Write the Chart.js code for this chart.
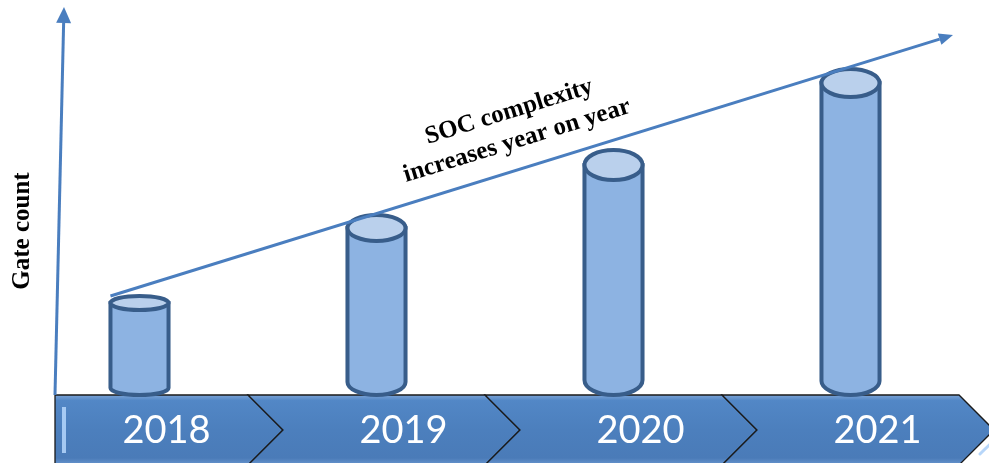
<!DOCTYPE html>
<html>
<head>
<meta charset="utf-8">
<script src="https://cdn.jsdelivr.net/npm/chart.js@4.4.1/dist/chart.umd.min.js"></script>
<style>
html, body { margin: 0; padding: 0; background: #fff; }
</style>
</head>
<body>
<canvas id="gateChart" width="989" height="463"></canvas>
<script>
// du lieu
const years = ['2018', '2019', '2020', '2021'];
const gateCount = [92, 167, 230, 312];
const yAxisTitle = 'Gate count';
const trendText = ['SOC complexity', 'increases year on year'];

// kieu ve
const capDepth = [7, 13, 15, 14];
const blueLine = '#4a7ebf';
const bodyFill = '#8db3e2';
const capFill = '#bad0ec';
const cylStroke = '#385d8a';

function drawArrow(ctx, x1, y1, x2, y2, head, width, color, lw) {
    const ang = Math.atan2(y2 - y1, x2 - x1);
    const bx = x2 - head * Math.cos(ang);
    const by = y2 - head * Math.sin(ang);
    ctx.save();
    ctx.strokeStyle = color;
    ctx.fillStyle = color;
    ctx.lineWidth = lw;
    ctx.beginPath();
    ctx.moveTo(x1, y1);
    ctx.lineTo(bx, by);
    ctx.stroke();
    ctx.beginPath();
    ctx.moveTo(x2, y2);
    ctx.lineTo(bx + width / 2 * Math.sin(ang), by - width / 2 * Math.cos(ang));
    ctx.lineTo(bx - width / 2 * Math.sin(ang), by + width / 2 * Math.cos(ang));
    ctx.closePath();
    ctx.fill();
    ctx.restore();
}

const cylinderPlugin = {
    id: 'cylinders',
    beforeDatasetsDraw(chart) {
        const ctx = chart.ctx;
        const area = chart.chartArea;
        const xs = chart.scales.x;
        const half = (xs.getPixelForValue(1) - xs.getPixelForValue(0)) / 2;
        const top = area.bottom;
        const tip = 35;
        const mid = top + tip;
        const bottom = top + 2 * tip;
        const left = area.left + 34;

        const bounds = [left];
        for (let i = 0; i < years.length; i++) {
            bounds.push(xs.getPixelForValue(i) + half - 10);
        }

        // bang mui ten
        for (let i = 0; i < years.length; i++) {
            const L = bounds[i], R = bounds[i + 1];
            ctx.save();
            ctx.beginPath();
            ctx.moveTo(L, top);
            ctx.lineTo(R, top);
            ctx.lineTo(R + tip, mid);
            ctx.lineTo(R, bottom);
            ctx.lineTo(L, bottom);
            if (i > 0) ctx.lineTo(L + tip, mid);
            ctx.closePath();
            const g = ctx.createLinearGradient(0, top, 0, bottom);
            g.addColorStop(0, '#7ba3d6');
            g.addColorStop(0.08, '#5287c6');
            g.addColorStop(0.5, '#4c7fbd');
            g.addColorStop(0.9, '#4a7bb8');
            g.addColorStop(1, '#6a96cf');
            ctx.fillStyle = g;
            ctx.fill();
            ctx.strokeStyle = '#1a1a1a';
            ctx.lineWidth = 1.3;
            ctx.stroke();
            ctx.restore();

            // vet sang
            ctx.save();
            ctx.strokeStyle = 'rgba(175, 210, 248, 0.9)';
            ctx.lineWidth = 3;
            ctx.lineCap = 'round';
            ctx.beginPath();
            ctx.moveTo(R + tip + 12, mid + 1);
            ctx.quadraticCurveTo(R + tip + 2, mid + 8, R + tip - 14, mid + 24);
            ctx.stroke();
            ctx.restore();
        }
        ctx.save();
        ctx.strokeStyle = 'rgba(175, 210, 248, 0.9)';
        ctx.lineWidth = 4;
        ctx.beginPath();
        ctx.moveTo(left + 9, top + 12);
        ctx.lineTo(left + 9, top + 58);
        ctx.stroke();
        ctx.restore();

        // nhan nam
        ctx.save();
        ctx.fillStyle = '#ffffff';
        ctx.font = '38px Lato';
        ctx.textAlign = 'center';
        ctx.textBaseline = 'alphabetic';
        years.forEach((y, i) => {
            ctx.fillText(y, xs.getPixelForValue(i) + 27, top + 48);
        });
        ctx.restore();

        // truc y
        drawArrow(ctx, left, top, left + 9, 7, 16, 15, blueLine, 3);

        ctx.save();
        ctx.translate(23, 231);
        ctx.rotate(-Math.PI / 2);
        ctx.fillStyle = '#000';
        ctx.font = 'bold 25px "Liberation Serif"';
        ctx.textAlign = 'center';
        ctx.textBaseline = 'middle';
        ctx.fillText(yAxisTitle, 0, 0);
        ctx.restore();
    },
    afterDatasetsDraw(chart) {
        const ctx = chart.ctx;
        const meta = chart.getDatasetMeta(0);
        meta.data.forEach((el, i) => {
            const rx = el.width / 2;
            const ry = capDepth[i];
            const topY = el.y;
            const botY = el.base - ry;
            ctx.save();
            ctx.lineWidth = 4;
            ctx.strokeStyle = cylStroke;
            ctx.fillStyle = bodyFill;
            ctx.beginPath();
            ctx.moveTo(el.x - rx, topY);
            ctx.lineTo(el.x - rx, botY);
            ctx.ellipse(el.x, botY, rx, ry, 0, Math.PI, 0, true);
            ctx.lineTo(el.x + rx, topY);
            ctx.closePath();
            ctx.fill();
            ctx.stroke();
            ctx.beginPath();
            ctx.ellipse(el.x, topY, rx, ry, 0, 0, Math.PI * 2);
            ctx.fillStyle = capFill;
            ctx.fill();
            ctx.stroke();
            ctx.restore();
        });

        // mui ten xu huong
        const first = meta.data[0];
        const sx = first.x - first.width / 2;
        const sy = first.y - capDepth[0];
        const ex = 953, ey = 35;
        drawArrow(ctx, sx, sy, ex, ey, 14, 12, blueLine, 3);

        const ang = Math.atan2(ey - sy, ex - sx);
        ctx.save();
        ctx.fillStyle = '#000';
        ctx.font = 'bold 25px "Liberation Serif"';
        ctx.textAlign = 'center';
        ctx.textBaseline = 'middle';
        [[509, 112], [517, 141]].forEach((p, i) => {
            ctx.save();
            ctx.translate(p[0], p[1]);
            ctx.rotate(ang);
            ctx.fillText(trendText[i], 0, 0);
            ctx.restore();
        });
        ctx.restore();
    }
};

document.addEventListener('DOMContentLoaded', function() {
    const ctx = document.getElementById('gateChart');
    new Chart(ctx.getContext('2d'), {
        type: 'bar',
        data: {
            labels: years,
            datasets: [{
                label: yAxisTitle,
                data: gateCount,
                backgroundColor: 'rgba(0,0,0,0)',
                borderWidth: 0,
                barPercentage: 0.245,
                categoryPercentage: 1
            }]
        },
        options: {
            responsive: false,
            animation: false,
            layout: { padding: { left: 21, right: 20, top: 45, bottom: 68 } },
            scales: {
                x: { display: false },
                y: { display: false, min: 0, max: 350 }
            },
            plugins: {
                legend: { display: false },
                tooltip: { enabled: false }
            }
        },
        plugins: [cylinderPlugin]
    });
});
</script>
</body>
</html>
